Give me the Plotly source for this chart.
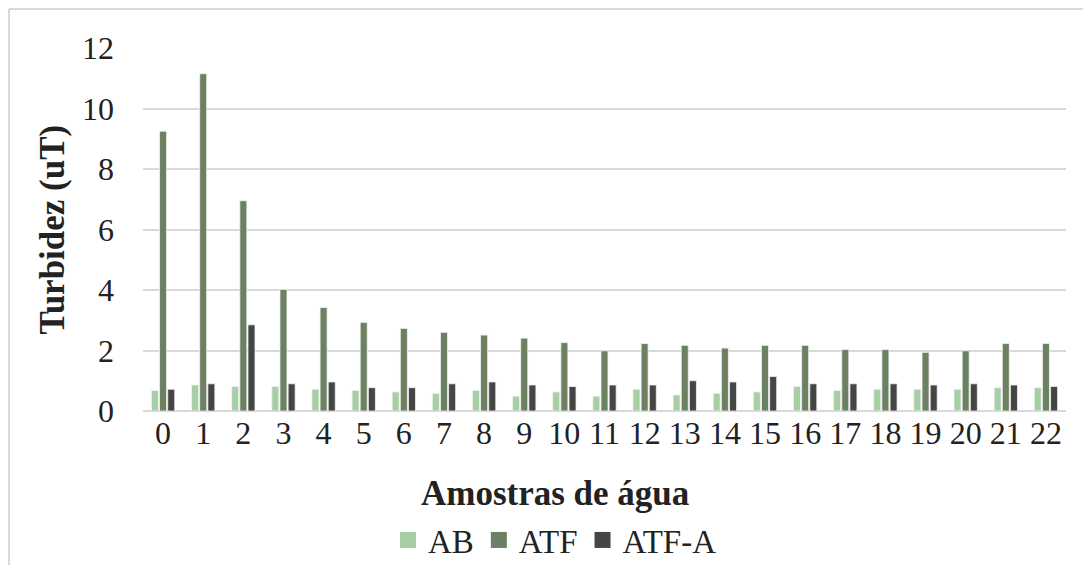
import plotly.graph_objects as go

categories = [str(i) for i in range(23)]
ab = [0.68, 0.86, 0.81, 0.81, 0.72, 0.68, 0.63, 0.58, 0.68, 0.49, 0.63, 0.49,
      0.72, 0.53, 0.58, 0.63, 0.81, 0.68, 0.72, 0.72, 0.72, 0.77, 0.77]
atf = [9.25, 11.15, 6.95, 4.02, 3.42, 2.93, 2.73, 2.6, 2.51, 2.41, 2.26, 1.99,
       2.23, 2.17, 2.08, 2.17, 2.17, 2.03, 2.03, 1.94, 1.99, 2.23, 2.23]
atf_a = [0.72, 0.9, 2.85, 0.9, 0.96, 0.77, 0.77, 0.9, 0.96, 0.86, 0.81, 0.86,
         0.86, 1.0, 0.96, 1.14, 0.9, 0.9, 0.9, 0.86, 0.9, 0.86, 0.81]
y_ticks = [0, 2, 4, 6, 8, 10, 12]

FONT = "Liberation Serif, Times New Roman, serif"
series = [("AB", ab, "#a7cfa5"), ("ATF", atf, "#6b8162"), ("ATF-A", atf_a, "#454545")]

fig = go.Figure()
for name, vals, color in series:
    fig.add_trace(go.Bar(x=categories, y=vals, name=name, marker_color=color, showlegend=False,
                         marker_line=dict(color="#f2f2f2", width=0.8)))
for name, vals, color in series:
    fig.add_trace(go.Scatter(x=[None], y=[None], mode="markers", name=name,
                             marker=dict(symbol="square", size=16, color=color)))

W, H = 1075, 557
L, R, T, B = 135, 17, 40, 154
PW, PH = W - L - R, H - T - B
CX = (547 - L) / PW
fig.update_layout(
    width=W, height=H,
    margin=dict(l=L, r=R, t=T, b=B, autoexpand=False),
    paper_bgcolor="white", plot_bgcolor="white",
    barmode="group", bargap=0.39, bargroupgap=0.14,
    font=dict(family=FONT, size=32, color="#222"),
    xaxis=dict(type="category", tickfont=dict(size=32, family=FONT), ticks="", showgrid=False,
               showline=False, automargin=False),
    yaxis=dict(range=[0, 12], tickvals=y_ticks, showgrid=True, gridcolor="#d9d9d9", gridwidth=1.5,
               zeroline=True, zerolinecolor="#d9d9d9", zerolinewidth=1.5, automargin=False,
               tickfont=dict(size=32, family=FONT), ticks="", ticklabelstandoff=28),
    legend=dict(orientation="h", x=CX, xanchor="center", yref="container",
                y=1 - 532 / H, yanchor="middle",
                font=dict(size=33, family=FONT), traceorder="normal", itemwidth=30),
    annotations=[
        dict(text="<b>Amostras de água</b>", xref="paper", yref="paper",
             x=CX, y=-0.226, xanchor="center", yanchor="middle", showarrow=False,
             font=dict(size=35, family=FONT)),
        dict(text="<b>Turbidez (uT)</b>", xref="paper", yref="paper", textangle=-90,
             x=(44 - L) / PW, y=0.5, xanchor="center", yanchor="middle", showarrow=False,
             font=dict(size=35, family=FONT)),
    ],
    shapes=[
        dict(type="line", xref="paper", yref="paper", x0=(1 - L) / PW, x1=(1 - L) / PW,
             y0=1 + (T - 1) / PH, y1=-(B + 10) / PH, line=dict(color="#d9d9d9", width=2)),
        dict(type="line", xref="paper", yref="paper", x0=(1 - L) / PW, x1=1 + (R + 10) / PW,
             y0=1 + (T - 1) / PH, y1=1 + (T - 1) / PH, line=dict(color="#d9d9d9", width=2)),
    ],
)
fig.write_html("out.html")
